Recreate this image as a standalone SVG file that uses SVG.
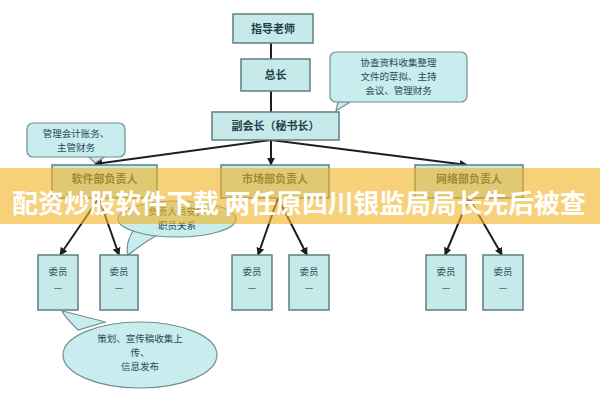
<svg xmlns="http://www.w3.org/2000/svg" width="600" height="400" viewBox="0 0 600 400">
<style>
.box{fill:#c6e9e9;stroke:#5e7f80;stroke-width:1.5}
.call{fill:#c9ecee;stroke:#6f8f90;stroke-width:1.2}
.t{font-family:"Noto Sans CJK SC","Noto Sans",sans-serif;font-size:11px;font-weight:bold;fill:#23404a;text-anchor:middle}
.s{font-family:"Noto Sans CJK SC","Noto Sans",sans-serif;font-size:9.5px;fill:#2a4a55;text-anchor:middle}
.ln{stroke:#1e1e1e;stroke-width:2;fill:none}
.ban{font-family:"Noto Sans CJK SC","Noto Sans",sans-serif;font-size:25.8px;font-weight:bold;fill:#ffffff;text-anchor:middle}
</style>
<defs>
<marker id="ah" viewBox="0 0 10 10" refX="9" refY="5" markerWidth="4" markerHeight="4" orient="auto">
<path d="M0,0 L10,5 L0,10 z" fill="#1e1e1e"/>
</marker>
</defs>
<rect width="600" height="400" fill="#ffffff"/>
<g id="connectors">
<line class="ln" x1="271" y1="43" x2="271" y2="59"/>
<line class="ln" x1="271" y1="91" x2="271" y2="112"/>
<line class="ln" x1="271" y1="140" x2="95" y2="164" marker-end="url(#ah)"/>
<line class="ln" x1="271" y1="140" x2="271" y2="165" marker-end="url(#ah)"/>
<line class="ln" x1="271" y1="140" x2="467" y2="165" marker-end="url(#ah)"/>
<line class="ln" x1="99" y1="198" x2="60" y2="255" marker-end="url(#ah)"/>
<line class="ln" x1="99" y1="198" x2="119" y2="255" marker-end="url(#ah)"/>
<line class="ln" x1="278" y1="198" x2="258" y2="255" marker-end="url(#ah)"/>
<line class="ln" x1="278" y1="198" x2="307" y2="255" marker-end="url(#ah)"/>
<line class="ln" x1="469" y1="198" x2="445" y2="255" marker-end="url(#ah)"/>
<line class="ln" x1="469" y1="198" x2="502" y2="255" marker-end="url(#ah)"/>
</g>
<g id="n-teacher"><rect class="box" x="233" y="14" width="80" height="29"/><text class="t" x="273" y="33">指导老师</text></g>
<g id="n-chief"><rect class="box" x="241" y="59" width="69" height="32"/><text class="t" x="275.5" y="79">总长</text></g>
<g id="n-vice"><rect class="box" x="212" y="112" width="127" height="28"/><text class="t" x="275.5" y="130">副会长（秘书长）</text></g>
<g id="c-right"><path class="call" d="M338,102 L336,111 L350,102 Z"/><rect class="call" x="330" y="52" width="137" height="50" rx="6"/>
<text class="s" x="398.5" y="66">协查资料收集整理</text><text class="s" x="398.5" y="80">文件的草拟、主持</text><text class="s" x="398.5" y="94">会议、管理财务</text></g>
<g id="c-left"><path class="call" d="M88,156 L95,163 L106,156 Z"/><rect class="call" x="27" y="123" width="98" height="34" rx="6"/>
<text class="s" x="76" y="137">管理会计账务、</text><text class="s" x="76" y="151">主管财务</text></g>
<g id="n-dept1"><rect class="box" x="52" y="165" width="105" height="33"/><text class="t" x="104.5" y="183">软件部负责人</text></g>
<g id="n-dept2"><rect class="box" x="221" y="165" width="108" height="33"/><text class="t" x="275" y="183">市场部负责人</text></g>
<g id="n-dept3"><rect class="box" x="415" y="165" width="108" height="33"/><text class="t" x="469" y="183">网络部负责人</text></g>
<g id="c-mid"><path class="call" d="M135,228 C128,238 126,248 128,255 C140,246 150,238 160,234 Z"/><ellipse class="call" cx="177" cy="219" rx="59" ry="18"/>
<text class="s" x="177" y="215">负责人员安排</text><text class="s" x="177" y="229">职员关系</text></g>
<g id="m1"><rect class="box" x="38" y="255" width="40" height="55"/><text class="s" x="58" y="275">委员</text><text class="s" x="58" y="291">—</text></g>
<g id="m2"><rect class="box" x="100" y="255" width="38" height="55"/><text class="s" x="119" y="275">委员</text><text class="s" x="119" y="291">—</text></g>
<g id="m3"><rect class="box" x="232" y="255" width="40" height="55"/><text class="s" x="252" y="275">委员</text><text class="s" x="252" y="291">—</text></g>
<g id="m4"><rect class="box" x="289" y="255" width="40" height="55"/><text class="s" x="309" y="275">委员</text><text class="s" x="309" y="291">—</text></g>
<g id="m5"><rect class="box" x="426" y="255" width="40" height="55"/><text class="s" x="446" y="275">委员</text><text class="s" x="446" y="291">—</text></g>
<g id="m6"><rect class="box" x="483" y="255" width="40" height="55"/><text class="s" x="503" y="275">委员</text><text class="s" x="503" y="291">—</text></g>
<g id="c-bottom"><path class="call" d="M78,330 C70,322 64,316 62,311 C75,314 90,318 105,322 Z"/><ellipse class="call" cx="140" cy="355" rx="77" ry="33"/>
<text class="s" x="140" y="342">策划、宣传稿收集上</text><text class="s" x="140" y="356">传、</text><text class="s" x="140" y="370">信息发布</text></g>
<g id="banner"><rect x="0" y="168" width="600" height="56" fill="#f0b429" opacity="0.62"/>
<text class="ban" x="299" y="213">配资炒股软件下载 两任原四川银监局局长先后被查</text></g>
</svg>
